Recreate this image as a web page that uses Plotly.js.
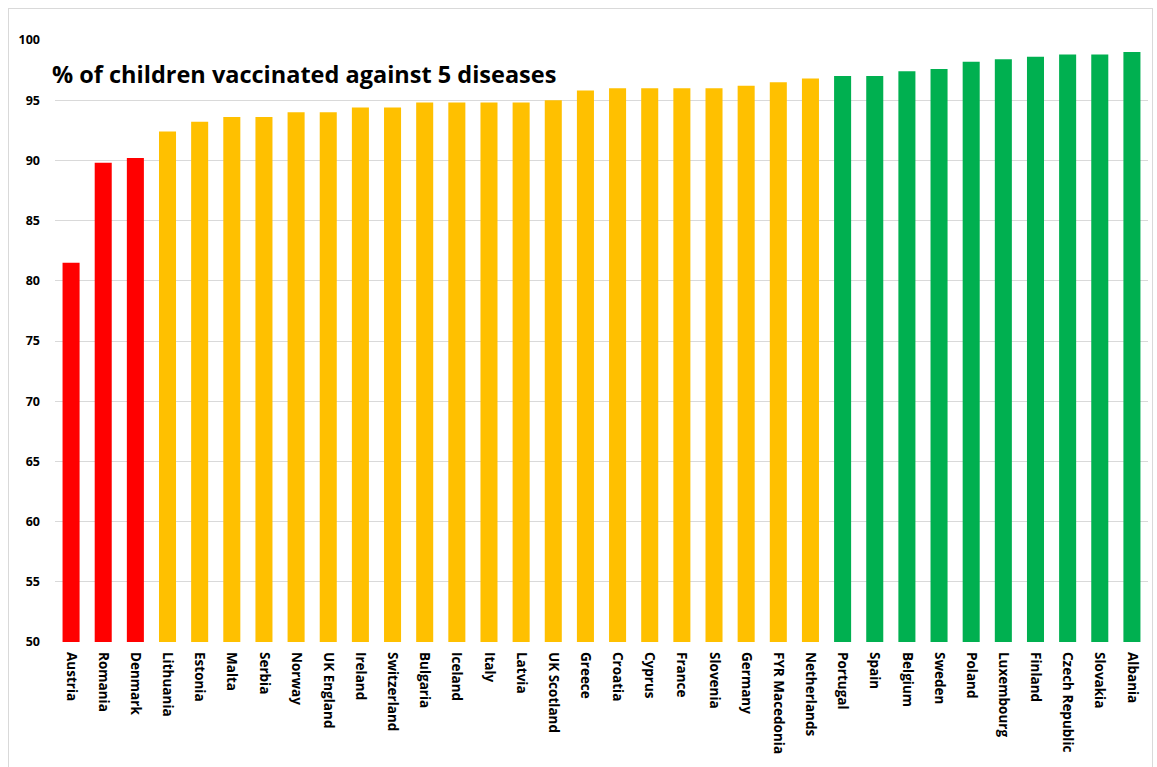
<!DOCTYPE html>
<html>
<head>
<meta charset="utf-8">
<script src="https://cdn.plot.ly/plotly-3.0.1.min.js"></script>
<style>
  html, body { margin: 0; padding: 0; background: #fff; }
  #wrap { position: relative; width: 1157px; height: 767px; }
  #chart { width: 1157px; height: 767px; }
  #frame { position: absolute; left: 8px; top: 8px; width: 1143px; height: 770px; border: 1px solid #d9d9d9; pointer-events: none; }
</style>
</head>
<body>
<div id="wrap">
  <div id="chart"></div>
  <div id="frame"></div>
</div>
<script>
const countries = ["Austria","Romania","Denmark","Lithuania","Estonia","Malta","Serbia","Norway","UK England","Ireland","Switzerland","Bulgaria","Iceland","Italy","Latvia","UK Scotland","Greece","Croatia","Cyprus","France","Slovenia","Germany","FYR Macedonia","Netherlands","Portugal","Spain","Belgium","Sweden","Poland","Luxembourg","Finland","Czech Republic","Slovakia","Albania"];
const values = [81.5,89.8,90.2,92.4,93.2,93.6,93.6,94.0,94.0,94.4,94.4,94.8,94.8,94.8,94.8,95.0,95.8,96.0,96.0,96.0,96.0,96.2,96.5,96.8,97.0,97.0,97.4,97.6,98.2,98.4,98.6,98.8,98.8,99.0];
const groups = ["red","red","red","amber","amber","amber","amber","amber","amber","amber","amber","amber","amber","amber","amber","amber","amber","amber","amber","amber","amber","amber","amber","amber","green","green","green","green","green","green","green","green","green","green"];
const groupColors = { red: "#FF0000", amber: "#FFC000", green: "#00B050" };
const yTicks = [50,55,60,65,70,75,80,85,90,95,100];

const trace = {
  type: "bar",
  x: countries,
  y: values,
  base: 0,
  marker: { color: groups.map(g => groupColors[g]) },
  hoverinfo: "x+y"
};

const layout = {
  width: 1157,
  height: 767,
  margin: { l: 55, r: 9, t: 40, b: 125 },
  paper_bgcolor: "#ffffff",
  plot_bgcolor: "#ffffff",
  bargap: 0.47,
  showlegend: false,
  font: { family: "Open Sans, Arial, sans-serif", color: "#000000" },
  title: {
    text: "<b>% of children vaccinated against 5 diseases</b>",
    xref: "container", yref: "container",
    x: 52 / 1157, xanchor: "left",
    y: 1 - 75 / 767, yanchor: "middle",
    font: { family: "Open Sans, Arial, sans-serif", size: 23.5, color: "#000000" }
  },
  xaxis: {
    type: "category",
    tickangle: 90,
    tickfont: { family: "Open Sans, Arial, sans-serif", size: 13.5, color: "#000000", weight: "bold" },
    showgrid: false,
    showline: false,
    ticks: "",
    ticklen: 0,
    ticklabelstandoff: 9,
    automargin: false
  },
  yaxis: {
    range: [50, 100],
    tickvals: yTicks,
    ticktext: yTicks.map(String),
    tickfont: { family: "Open Sans, Arial, sans-serif", size: 12.5, color: "#000000", weight: "bold" },
    showgrid: true,
    gridcolor: "#d9d9d9",
    gridwidth: 1,
    zeroline: false,
    showline: false,
    ticks: "",
    ticklabelstandoff: 14,
    automargin: false
  }
};

Plotly.newPlot("chart", [trace], layout, { displayModeBar: false, staticPlot: true });
</script>
</body>
</html>
